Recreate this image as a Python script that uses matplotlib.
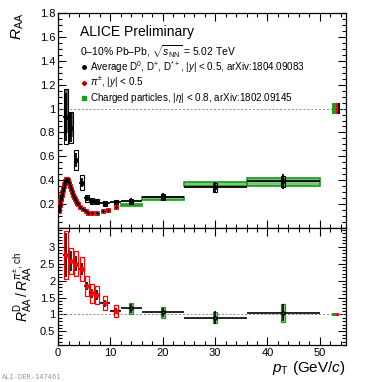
import matplotlib
matplotlib.use("Agg")
import matplotlib.pyplot as plt
from matplotlib.patches import Rectangle
from matplotlib.ticker import MultipleLocator, FixedLocator, FuncFormatter

plt.rcParams['font.family'] = ['Liberation Sans', 'DejaVu Sans']
plt.rcParams['mathtext.fontset'] = 'custom'
plt.rcParams['mathtext.rm'] = 'Liberation Sans'
plt.rcParams['mathtext.it'] = 'Liberation Sans:italic'
plt.rcParams['mathtext.bf'] = 'Liberation Sans:bold'

# D mesons (average D0, D+, D*+) RAA, 0-10%
d_pt = [1.5, 2.5, 3.5, 4.5, 5.5, 6.5, 7.5, 9, 11, 14, 20, 30, 43]
d_xerr = [0.5, 0.5, 0.5, 0.5, 0.5, 0.5, 0.5, 1, 1, 2, 4, 6, 7]
d_raa = [0.93, 0.84, 0.57, 0.38, 0.25, 0.223, 0.22, 0.206, 0.214, 0.223, 0.262, 0.34, 0.39]
d_stat = [0.2, 0.12, 0.06, 0.04, 0.025, 0.02, 0.02, 0.02, 0.02, 0.025, 0.03, 0.045, 0.06]
d_syst = [0.23, 0.13, 0.08, 0.06, 0.03, 0.025, 0.022, 0.02, 0.02, 0.02, 0.025, 0.035, 0.045]

# pions RAA, |y|<0.5
pi_pt = [0.11, 0.13, 0.15, 0.17, 0.19, 0.22, 0.25, 0.27, 0.3, 0.33, 0.37, 0.42, 0.47,
         0.52, 0.57, 0.62, 0.67, 0.72, 0.77, 0.82, 0.87, 0.92, 0.97, 1.05, 1.15, 1.25,
         1.35, 1.45, 1.55, 1.65, 1.75, 1.85, 1.95, 2.1, 2.3, 2.5, 2.7, 2.9, 3.1, 3.3,
         3.5, 3.7, 3.9, 4.25, 4.75, 5.25, 5.75, 6.5, 7.5, 8.5, 9.5, 11.0]
pi_raa = [0.145, 0.15, 0.155, 0.16, 0.165, 0.17, 0.18, 0.185, 0.19, 0.2, 0.21, 0.22, 0.235,
          0.245, 0.255, 0.265, 0.275, 0.285, 0.295, 0.305, 0.315, 0.325, 0.335, 0.35, 0.365, 0.38,
          0.395, 0.405, 0.41, 0.412, 0.405, 0.4, 0.39, 0.375, 0.35, 0.325, 0.3, 0.28, 0.26, 0.24,
          0.225, 0.21, 0.2, 0.18, 0.16, 0.142, 0.13, 0.125, 0.13, 0.14, 0.155, 0.178]

# charged particles RAA, |eta|<0.8
ch_lo = [12, 16, 24, 36]
ch_hi = [16, 24, 36, 50]
ch_raa = [0.19, 0.25, 0.367, 0.385]
ch_syst = [0.008, 0.012, 0.018, 0.03]

# ratios D / pi (low pT) and D / charged (high pT)
rpi_pt = [1.5, 2.5, 3.5, 4.5, 5.5, 6.5, 7.5, 9, 11]
rpi_xerr = [0.5, 0.5, 0.5, 0.5, 0.5, 0.5, 0.5, 1, 1]
rpi_val = [2.75, 2.58, 2.5, 2.34, 1.84, 1.62, 1.57, 1.33, 1.1]
rpi_stat = [0.65, 0.3, 0.22, 0.17, 0.12, 0.12, 0.15, 0.1, 0.1]
rpi_syst = [0.7, 0.38, 0.36, 0.35, 0.3, 0.28, 0.27, 0.2, 0.17]

rch_pt = [14, 20, 30, 43]
rch_xerr = [2, 4, 6, 7]
rch_val = [1.18, 1.06, 0.91, 1.05]
rch_stat = [0.14, 0.14, 0.18, 0.25]
rch_syst = [0.17, 0.17, 0.15, 0.27]

fig = plt.figure(figsize=(3.65, 3.82), dpi=100)
ax1 = fig.add_axes([0.159, 0.403, 0.789, 0.563])
ax2 = fig.add_axes([0.159, 0.097, 0.789, 0.306])

box_w = 0.4
green = '#1a9a1a'

# top panel
ax1.axhline(1, color='#888888', ls=(0, (2, 2)), lw=0.7)
for lo, hi, v, s in zip(ch_lo, ch_hi, ch_raa, ch_syst):
    ax1.add_patch(Rectangle((lo, v - s), hi - lo, 2 * s, facecolor='#7cc87c',
                            edgecolor=green, lw=1.2, zorder=2))
for x, v, s in zip(d_pt, d_raa, d_syst):
    ax1.add_patch(Rectangle((x - box_w, v - s), 2 * box_w, 2 * s, facecolor='none',
                            edgecolor='black', lw=0.8, zorder=3))
# gray partial fill for the lowest bins
for x, v, s in zip(d_pt[:2], d_raa[:2], d_syst[:2]):
    ax1.add_patch(Rectangle((x - box_w, v - 0.6 * s), 2 * box_w, 1.6 * s, facecolor='#666666',
                            edgecolor='none', zorder=2.5))
ax1.plot(pi_pt, pi_raa, ls='none', marker='s', ms=3.2, mfc='none', mec='red', mew=0.7, zorder=4)
ax1.plot(pi_pt, pi_raa, ls='none', marker='o', ms=1.3, color='black', zorder=5)
ax1.errorbar(d_pt, d_raa, xerr=d_xerr, yerr=d_stat, fmt='o', ms=2.5, color='black',
             elinewidth=1.3, capsize=0, zorder=6)

# normalisation boxes
norm_x = [52.75, 53.3, 53.7]
norm_w = [0.7, 0.4, 0.4]
norm_c = [green, 'red', 'black']
for x, w, c in zip(norm_x, norm_w, norm_c):
    ax1.add_patch(Rectangle((x - w / 2, 0.955), w, 0.09, facecolor=c, edgecolor='none', zorder=5))

ax1.set_xlim(0, 55)
ax1.set_ylim(0, 1.8)

# bottom panel
ax2.axhline(1, color='#888888', ls=(0, (2, 2)), lw=0.7)
for x, v, s in zip(rpi_pt, rpi_val, rpi_syst):
    ax2.add_patch(Rectangle((x - box_w, v - s), 2 * box_w, 2 * s, facecolor='none',
                            edgecolor='red', lw=0.9, zorder=3))
for x, v, s in zip(rch_pt, rch_val, rch_syst):
    ax2.add_patch(Rectangle((x - box_w, v - s), 2 * box_w, 2 * s, facecolor='#8fd08f',
                            edgecolor=green, lw=0.9, zorder=3))
ax2.errorbar(rpi_pt, rpi_val, xerr=rpi_xerr, yerr=rpi_stat, fmt='D', ms=2.2, mfc='red',
             mec='red', ecolor='black', elinewidth=1.2, capsize=0, zorder=5)
ax2.errorbar(rch_pt, rch_val, xerr=rch_xerr, yerr=rch_stat, fmt='o', ms=2.2, mfc=green,
             mec='black', ecolor='black', elinewidth=1.2, capsize=0, zorder=5)
ax2.add_patch(Rectangle((52.4, 0.95), 0.7, 0.1, facecolor=green, edgecolor='none', zorder=5))
ax2.add_patch(Rectangle((53.1, 0.95), 0.5, 0.1, facecolor='red', edgecolor='none', zorder=5))
ax2.set_xlim(0, 55)
ax2.set_ylim(0.1, 3.55)

# axis styling, ROOT-like
for ax in (ax1, ax2):
    ax.xaxis.set_major_locator(MultipleLocator(10))
    ax.xaxis.set_minor_locator(MultipleLocator(2))
    ax.tick_params(which='both', direction='in', top=True, right=True, labelsize=8, pad=2)
    ax.tick_params(which='major', length=6, width=0.8)
    ax.tick_params(which='minor', length=3, width=0.8)
    for sp in ax.spines.values():
        sp.set_linewidth(0.9)

fmt = FuncFormatter(lambda v, p: ('%g' % round(v, 2)))
ax1.yaxis.set_major_locator(FixedLocator([0.2, 0.4, 0.6, 0.8, 1.0, 1.2, 1.4, 1.6, 1.8]))
ax1.yaxis.set_minor_locator(MultipleLocator(0.05))
ax1.yaxis.set_major_formatter(fmt)
ax1.tick_params(axis='x', labelbottom=False)
ax2.yaxis.set_major_locator(FixedLocator([0.5, 1, 1.5, 2, 2.5, 3]))
ax2.yaxis.set_minor_locator(MultipleLocator(0.1))
ax2.yaxis.set_major_formatter(fmt)

ax1.set_ylabel(r'$R_{\rm AA}$', fontsize=11, loc='top', labelpad=10)
ax2.set_ylabel(r'$R^{\rm D}_{\rm AA}\,/\,R^{\pi^{\pm},\,{\rm ch}}_{\rm AA}$', fontsize=10, labelpad=4)
ax2.set_xlabel(r'$p_{\rm T}$ (GeV/$c$)', fontsize=11, loc='right', labelpad=1)

ax1.text(0.076, 0.912, 'ALICE Preliminary', transform=ax1.transAxes, fontsize=10, va='center')
ax1.text(0.076, 0.82, r'0–10% Pb–Pb, $\sqrt{s_{\rm NN}}$ = 5.02 TeV', transform=ax1.transAxes,
         fontsize=7.5, va='center')

# legend entries
leg_labels = [r'Average D$^{0}$, D$^{+}$, D$^{*+}$, $|y|$ < 0.5, arXiv:1804.09083',
              r'$\pi^{\pm}$, $|y|$ < 0.5',
              r'Charged particles, $|\eta|$ < 0.8, arXiv:1802.09145']
leg_markers = ['o', 'D', 's']
leg_colors = ['black', '#b00000', green]
leg_sizes = [2.5, 2.2, 3.5]
leg_y = [0.748, 0.676, 0.607]
for lab, mk, c, ms, y in zip(leg_labels, leg_markers, leg_colors, leg_sizes, leg_y):
    ax1.plot([0.09], [y], marker=mk, ms=ms, color=c, ls='none', transform=ax1.transAxes,
             clip_on=False)
    ax1.text(0.112, y, lab, transform=ax1.transAxes, fontsize=7.1, va='center')

fig.text(0.005, 0.008, 'ALI-DER-147461', fontsize=5, color='#999999', family='DejaVu Sans Mono')

fig.savefig('out.png', dpi=100)
